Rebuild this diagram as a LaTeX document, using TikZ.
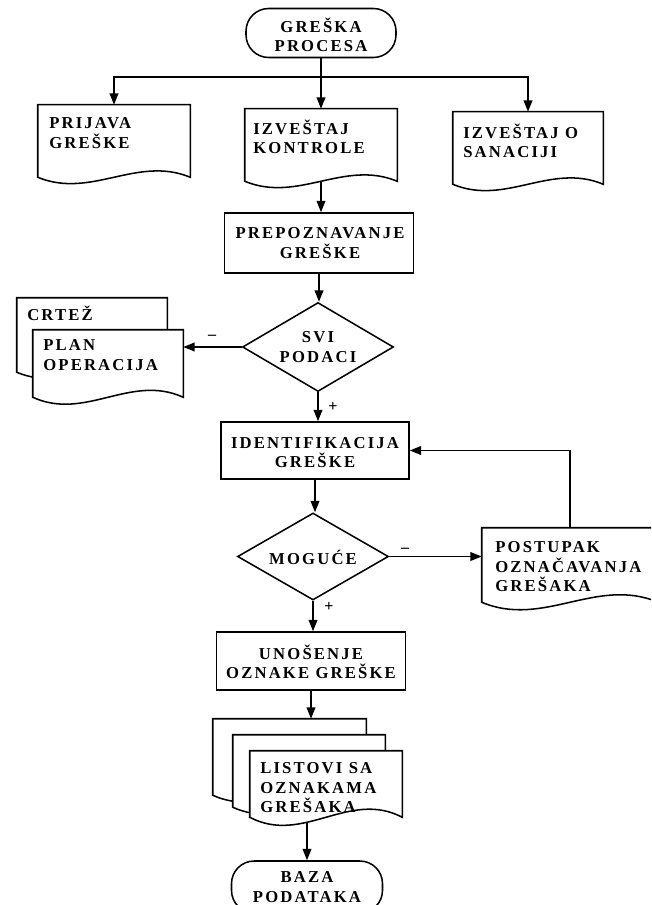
\documentclass[tikz,border=0pt]{standalone}
\usepackage{fontspec}
\setmainfont{Liberation Serif}
\newfontfamily\chartfont[LetterSpace=13]{Liberation Serif}
\usetikzlibrary{arrows.meta,calc,shapes.geometric}

% outline of a document symbol: straight top and sides, wavy bottom
\newcommand{\docpath}[2]{%
  \draw[line, fill=white] (#1.south west) -- (#1.north west) -- (#1.north east) -- (#1.south east)
    .. controls ($(#1.south east)!0.35!(#1.south west)+(0,-#2)$)
       and ($(#1.south east)!0.65!(#1.south west)+(0,#2)$) .. (#1.south west) -- cycle;}

\begin{document}
\begin{tikzpicture}[x=0.75pt, y=-0.75pt,
  line/.style={line width=1.15pt, line join=miter},
  flow/.style={line, -{Triangle[length=8.5pt,width=6.5pt]}},
  boxsize/.style 2 args={minimum width={#1*0.75pt}, minimum height={#2*0.75pt}},
  frame/.style={shape=rectangle, inner sep=0pt, draw=none},
  procbox/.style={shape=rectangle, inner sep=0pt, line, draw, fill=white},
  choice/.style={shape=diamond, inner sep=0pt, line, draw, fill=white},
  terminal/.style={shape=rectangle, inner sep=0pt, line, draw, fill=white, rounded corners=17pt},
  txt/.style={inner sep=0pt, align=center, font=\chartfont\bfseries\fontsize{12.5}{14.6}\selectfont},
  lefttxt/.style={txt, align=left, anchor=west},
  sign/.style={inner sep=0pt, font=\bfseries\fontsize{12}{12}\selectfont}]

\useasboundingbox (0,0) rectangle (651,905);
\fill[white] (0,0) rectangle (651,905);
\clip (0,0) rectangle (651,905);

% ---- shapes ----
\node[terminal, boxsize={150}{49}] (greska) at (321,33) {};
\node[frame, boxsize={152}{72}] (prijava) at (114,141) {};
\node[frame, boxsize={152}{72}] (kontrole) at (321,145) {};
\node[frame, boxsize={150}{72}] (sanaciji) at (528,148) {};
\node[procbox, boxsize={189}{60}] (prepoz) at (319,243) {};
\node[choice, boxsize={151}{89}] (svi) at (318,347) {};
\node[frame, boxsize={150}{74}] (crtez) at (92,335) {};
\node[frame, boxsize={150}{67}] (plan) at (108,363.5) {};
\node[procbox, boxsize={188}{57}] (ident) at (315,450.5) {};
\node[choice, boxsize={151}{87}] (moguce) at (313,556.5) {};
\node[frame, boxsize={176}{74}] (postupak) at (570,565) {};
\node[procbox, boxsize={189}{58}] (unosenje) at (311,661) {};
\node[frame, boxsize={153}{76}] (listA) at (289.5,757) {};
\node[frame, boxsize={152}{72}] (listB) at (309,771) {};
\node[frame, boxsize={152}{66}] (listC) at (326,784) {};
\node[terminal, boxsize={151}{52}] (baza) at (307,887) {};

% ---- connectors ----
\coordinate (split) at (321,77);
\draw[line] (greska.south) -- (split);
\draw[flow] (split) -| (prijava.north);
\draw[flow] (split) -| (sanaciji.north);
\draw[flow] (split) -- (kontrole.north);
\draw[flow] (kontrole.south) -- (kontrole.south |- prepoz.north);
\draw[flow] (prepoz.south) -- (prepoz.south |- svi.north);
\draw[flow] (svi.west) -- (svi.west -| plan.east);
\draw[flow] (svi.south) -- (svi.south |- ident.north);
\draw[flow] (ident.south) -- (ident.south |- moguce.north);
\draw[flow] (moguce.east) -- (moguce.east -| postupak.west);
\draw[flow] (postupak.north) |- (ident.east);
\draw[flow] (moguce.south) -- (moguce.south |- unosenje.north);
\draw[flow] (unosenje.south) -- (unosenje.south |- listA.north);
\draw[flow] (listC.center -| baza.north) -- (baza.north);

% ---- document symbols ----
\docpath{prijava}{22}
\docpath{kontrole}{22}
\docpath{sanaciji}{22}
\docpath{crtez}{22}
\docpath{plan}{24}
\docpath{postupak}{26}
\docpath{listA}{24}
\docpath{listB}{24}
\docpath{listC}{28}

% ---- texts ----
\node[txt] (tGreska) at (321,35) {GREŠKA\\PROCESA};
\node[lefttxt] (tPrijava) at (49,133) {PRIJAVA\\GREŠKE};
\node[lefttxt] (tKontrole) at (253,137) {IZVEŠTAJ\\KONTROLE};
\node[lefttxt] (tSanaciji) at (463,141) {IZVEŠTAJ O\\SANACIJI};
\node[txt] (tPrepoz) at (320,243) {PREPOZNAVANJE\\GREŠKE};
\node[txt] (tSvi) at (318,347) {SVI\\PODACI};
\node[lefttxt] (tCrtez) at (27,313) {CRTEŽ};
\node[lefttxt] (tPlan) at (43,355) {PLAN\\OPERACIJA};
\node[txt] (tIdent) at (315,452.5) {IDENTIFIKACIJA\\GREŠKE};
\node[txt] (tMoguce) at (313,557) {MOGUĆE};
\node[lefttxt] (tPostupak) at (495,567) {POSTUPAK\\OZNAČAVANJA\\GREŠAKA};
\node[txt] (tUnosenje) at (311,662) {UNOŠENJE\\OZNAKE GREŠKE};
\node[lefttxt] (tListovi) at (260,788) {LISTOVI SA\\OZNAKAMA\\GREŠAKA};
\node[txt] (tBaza) at (307,887) {BAZA\\PODATAKA};

% ---- decision signs ----
\node[sign] (sviNo) at (212,337) {–};
\node[sign] (sviYes) at (333,407) {+};
\node[sign] (mogNo) at (405,550) {–};
\node[sign] (mogYes) at (329,607) {+};
\end{tikzpicture}
\end{document}
